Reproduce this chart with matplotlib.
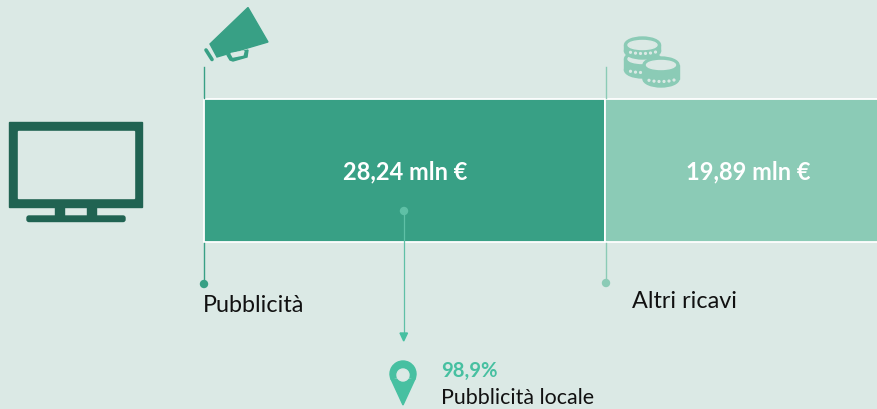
#!/usr/bin/env python3
import matplotlib
matplotlib.use('Agg')
import matplotlib.pyplot as plt
from matplotlib.patches import Polygon, Rectangle, Ellipse, Circle, FancyBboxPatch, Wedge

categories = ['Pubblicità', 'Altri ricavi']
values = [28.24, 19.89]
value_labels = ['28,24 mln €', '19,89 mln €']
local_share = '98,9%'
local_label = 'Pubblicità locale'

BG = '#dbe9e5'
DARK = '#38a085'
LIGHT = '#8bcbb6'
TV = '#206352'
PIN = '#47c0a1'
LEAD = '#5fc0a6'

plt.rcParams['font.family'] = ['Lato', 'DejaVu Sans']

W, H = 878, 409
fig = plt.figure(figsize=(W / 100, H / 100), dpi=100, facecolor=BG)

# bar axes, x in mln euro, 401 px for the first block
scale = 401 / values[0]
ax = fig.add_axes([0, 0, 1, 1], facecolor='none')
ax.set_xlim(-204.5 / scale, (W - 204.5) / scale)
ax.set_ylim(-(H - 170.5), 170.5)
ax.axis('off')
ax.barh(0, values[0], height=143.5, left=0, color=DARK, edgecolor='white', linewidth=1.3, zorder=2)
ax.barh(0, values[1], height=143.5, left=values[0], color=LIGHT, edgecolor='white', linewidth=1.3, zorder=2)

# overlay in pixels for icons and leader lines
px = fig.add_axes([0, 0, 1, 1], facecolor='none')
px.set_xlim(0, W)
px.set_ylim(H, 0)
px.axis('off')

px.text(405, 172, value_labels[0], color='white', fontsize=17, fontweight='bold',
        ha='center', va='center', zorder=5)
px.text(748, 172, value_labels[1], color='white', fontsize=17, fontweight='bold',
        ha='center', va='center', zorder=5)

# leader lines
px.plot([204, 204], [67, 98], color=DARK, lw=1, zorder=4)
px.plot([204, 204], [243, 284], color=DARK, lw=1, zorder=4)
px.add_patch(Circle((204, 284), 3.5, color=DARK, zorder=4))
px.plot([606, 606], [67, 98], color=LIGHT, lw=1, zorder=4)
px.plot([606, 606], [243, 283], color=LIGHT, lw=1, zorder=4)
px.add_patch(Circle((606, 283), 3.5, color=LIGHT, zorder=4))
px.add_patch(Circle((404, 211), 3.5, color=LEAD, zorder=4))
px.plot([404, 404], [211, 335], color=LEAD, lw=0.9, zorder=4)
px.add_patch(Polygon([[400, 333], [407.5, 333], [403.7, 341]], color=PIN, zorder=4))

# tv icon
px.add_patch(Rectangle((9, 122), 133, 85, color=TV, zorder=1))
px.add_patch(Rectangle((18, 131), 116, 67, color=BG, zorder=1))
px.add_patch(Rectangle((55, 206), 9, 12, color=TV, zorder=1))
px.add_patch(Rectangle((87, 206), 9, 12, color=TV, zorder=1))
px.add_patch(FancyBboxPatch((27, 216), 98, 5.5, boxstyle='round,pad=0,rounding_size=2', color=TV, zorder=1))

# megaphone icon
px.add_patch(Polygon([[210, 44], [248, 7.5], [268, 42], [217, 57]], color=DARK, zorder=1))
px.plot([206, 212], [50, 59.5], color=DARK, lw=2.6, solid_capstyle='round', zorder=1)
px.add_patch(Polygon([[227, 55], [248, 50], [247, 57], [233, 61], [230, 60]], color=DARK, zorder=1))
px.add_patch(Polygon([[231, 53.5], [244, 51], [243, 55], [233, 57]], color=BG, zorder=2))

# coins icon, drawn back to front
for cx, top, bottom in [(642.5, 59, 70), (642.5, 45, 51), (661, 65, 79)]:
    px.add_patch(Rectangle((cx - 18, top), 36, bottom - top, color=LIGHT, zorder=1))
    px.add_patch(Ellipse((cx, bottom), 36, 16, color=LIGHT, zorder=1))
    px.add_patch(Ellipse((cx, top), 36, 16, color=LIGHT, zorder=1))
    px.add_patch(Ellipse((cx, top), 29, 9, color=BG, zorder=1))
    for dx in range(-12, 14, 5):
        dy = 3.5 * (1 - (dx / 16) ** 2) ** 0.5
        px.add_patch(Circle((cx + dx, bottom + dy - 1), 0.9, color=BG, zorder=1))

# pin icon
px.add_patch(Wedge((403, 374), 13, 155, 25, color=PIN, zorder=1))
px.add_patch(Polygon([[391, 379], [415, 379], [403, 405]], color=PIN, zorder=1))
px.add_patch(Circle((403, 375), 6, color=BG, zorder=2))

# labels
px.text(203, 306, categories[0], fontsize=16.8, color='#111111', ha='left', va='center')
px.text(632, 302, categories[1], fontsize=16.8, color='#111111', ha='left', va='center')
px.text(441, 371, local_share, fontsize=14.6, color=PIN, fontweight='bold', ha='left', va='center')
px.text(441, 398, local_label, fontsize=15.4, color='#111111', ha='left', va='center')

fig.savefig('out.png', dpi=100, facecolor=BG)
